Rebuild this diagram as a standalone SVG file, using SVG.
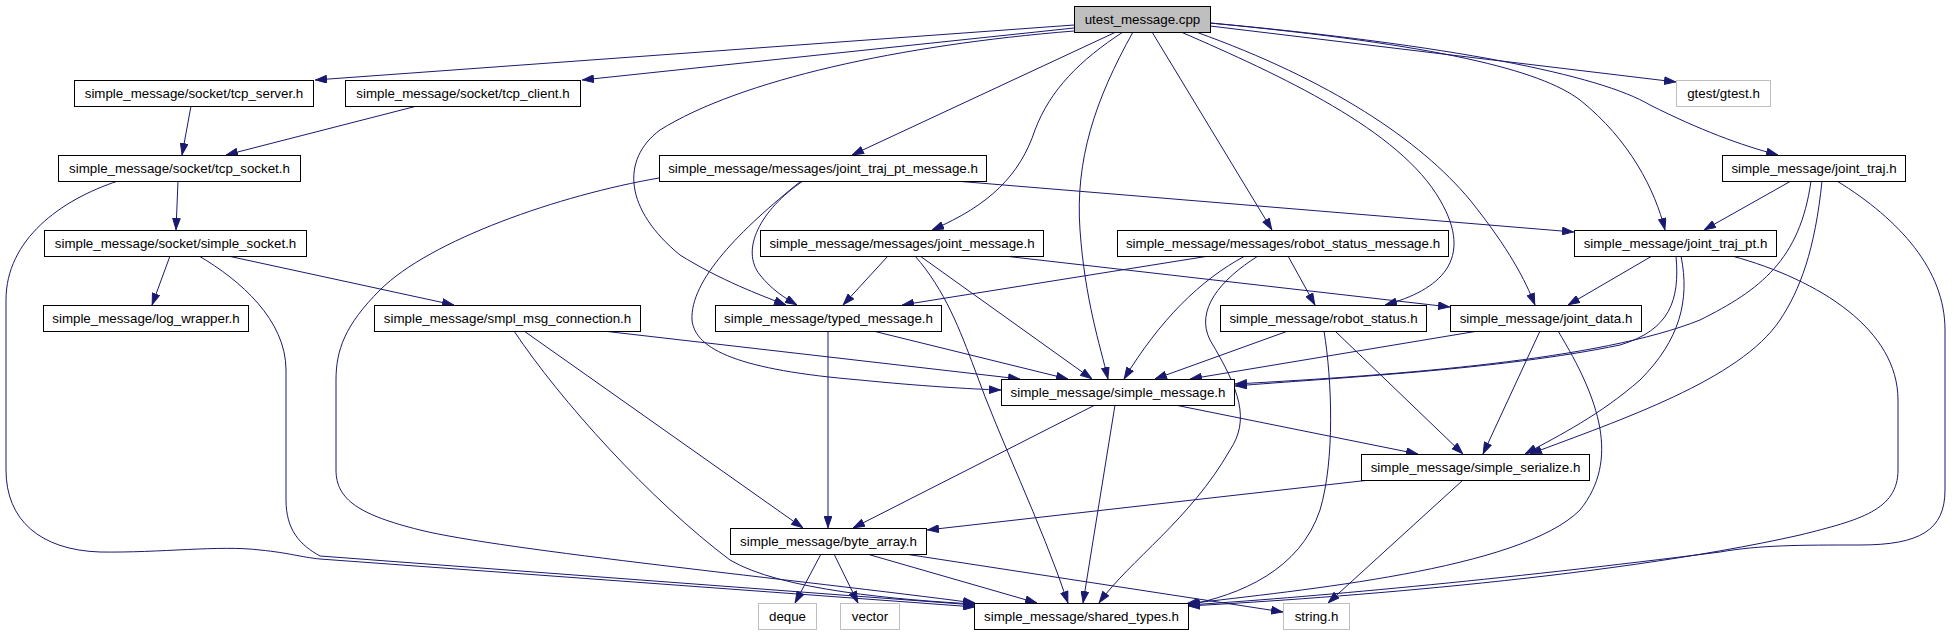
<svg xmlns="http://www.w3.org/2000/svg" width="1954" height="635" viewBox="0 0 1954 635">
<style>
.n rect{fill:#fff;stroke:#000;stroke-width:1}
.g rect{fill:#fff;stroke:#bfbfbf;stroke-width:1}
.r rect{fill:#bfbfbf;stroke:#000;stroke-width:1}
text{font-family:"Liberation Sans",Arial,Helvetica,sans-serif;font-size:13.33px;text-anchor:middle;fill:#000}
#edges path{fill:none;stroke:#191970;stroke-width:1;marker-end:url(#a)}
</style>
<defs>
<marker id="a" viewBox="0 0 12 8.5" refX="12" refY="4.25" markerWidth="12" markerHeight="8.5" orient="auto" markerUnits="userSpaceOnUse"><path d="M0.5,0.5L11.5,4.25L0.5,8z" fill="#191970" stroke="#191970" stroke-width="1"/></marker>
</defs>
<rect width="1954" height="635" fill="#fff"/>
<g id="edges">
<path d="M1074,25 L315,80"/>
<path d="M1074,28 L582,80"/>
<path d="M1074,31 C900,45 740,80 660,130 C620,160 625,210 680,255 C720,280 760,295 786,305"/>
<path d="M1116,32 L852,155"/>
<path d="M1123,32 C1080,60 1050,90 1035,130 C1020,175 990,205 932,230"/>
<path d="M1133,32 C1095,100 1075,160 1080,230 C1085,300 1100,345 1108,379"/>
<path d="M1152,32 L1272,230"/>
<path d="M1181,32 C1280,75 1400,130 1440,200 C1475,260 1440,290 1385,305"/>
<path d="M1196,32 C1330,80 1420,140 1470,200 C1510,250 1525,280 1535,305"/>
<path d="M1210,23 C1440,45 1540,70 1580,100 C1630,140 1655,190 1665,230"/>
<path d="M1210,23 C1450,45 1600,75 1650,105 C1700,130 1740,145 1778,155"/>
<path d="M1210,26 L1676,82"/>
<path d="M191,106 L182,155"/>
<path d="M417,106 L226,155"/>
<path d="M178,181 L176,230"/>
<path d="M118,181 C60,200 6,240 6,300 L6,470 C6,520 40,550 100,552 C160,553 220,545 260,550 C290,553 300,557 320,559 L975,607"/>
<path d="M199,256 C240,280 286,320 286,370 L286,500 C286,530 300,545 320,556 L975,605"/>
<path d="M170,256 L152,305"/>
<path d="M228,256 L454,305"/>
<path d="M603,331 L1020,379"/>
<path d="M524,331 L803,528"/>
<path d="M514,331 C560,400 650,500 730,560 C780,590 900,600 975,604"/>
<path d="M659,178 C560,195 430,240 380,290 C345,325 336,350 336,380 L336,470 C336,500 360,515 420,530 C500,550 800,580 975,603"/>
<path d="M803,181 C760,210 740,250 760,275 C772,290 785,298 797,305"/>
<path d="M801,181 C740,230 690,280 692,320 C695,350 740,370 860,380 C920,386 970,389 1001,390"/>
<path d="M955,181 L1574,232"/>
<path d="M888,256 L843,305"/>
<path d="M915,256 C945,290 960,330 975,370 C1000,440 1040,520 1068,603"/>
<path d="M920,256 L1092,379"/>
<path d="M1004,256 L1450,307"/>
<path d="M1209,256 L902,305"/>
<path d="M1245,256 C1200,280 1160,320 1124,379"/>
<path d="M1258,256 C1220,280 1195,310 1210,340 C1240,390 1250,420 1230,450 C1190,520 1130,560 1099,603"/>
<path d="M1288,256 L1315,305"/>
<path d="M1288,331 L1155,379"/>
<path d="M1324,331 C1332,380 1335,460 1320,510 C1300,570 1240,595 1188,605"/>
<path d="M1335,331 L1463,454"/>
<path d="M1478,331 L1190,379"/>
<path d="M1540,331 L1483,454"/>
<path d="M1558,331 C1600,400 1620,460 1580,510 C1520,570 1300,590 1186,604"/>
<path d="M1652,256 L1568,305"/>
<path d="M1676,256 C1680,300 1670,330 1620,345 C1500,370 1330,378 1235,386"/>
<path d="M1681,256 C1690,300 1680,340 1640,380 C1600,415 1560,435 1525,454"/>
<path d="M1732,256 C1820,280 1898,330 1898,400 L1898,470 C1898,510 1860,520 1800,535 C1600,580 1300,600 1188,606"/>
<path d="M1791,181 L1704,230"/>
<path d="M1811,181 C1800,260 1760,290 1700,320 C1600,360 1400,375 1235,384"/>
<path d="M1822,181 C1815,250 1800,290 1780,320 C1740,380 1620,420 1530,454"/>
<path d="M1837,181 C1900,220 1945,270 1945,330 L1945,490 C1945,530 1920,545 1860,545 C1800,545 1760,545 1720,552 C1500,580 1300,598 1188,605"/>
<path d="M1095,405 L853,528"/>
<path d="M1115,405 L1083,603"/>
<path d="M1175,405 L1418,454"/>
<path d="M1370,480 L927,530"/>
<path d="M1463,480 L1328,603"/>
<path d="M828,331 L828,528"/>
<path d="M873,331 L1068,379"/>
<path d="M821,554 L795,603"/>
<path d="M834,554 L858,603"/>
<path d="M867,554 L1037,603"/>
<path d="M905,554 L1283,612"/>
</g>
<g id="utest" class="r"><rect x="1074.5" y="6.5" width="136" height="26"/><text x="1142.5" y="24">utest_message.cpp</text></g>
<g id="tcp_server" class="n"><rect x="74.5" y="80.5" width="239" height="26"/><text x="194" y="98">simple_message/socket/tcp_server.h</text></g>
<g id="tcp_client" class="n"><rect x="345.5" y="80.5" width="235" height="26"/><text x="463" y="98">simple_message/socket/tcp_client.h</text></g>
<g id="gtest" class="g"><rect x="1676.5" y="80.5" width="94" height="26"/><text x="1723.5" y="98">gtest/gtest.h</text></g>
<g id="tcp_socket" class="n"><rect x="58.5" y="155.5" width="242" height="26"/><text x="179.5" y="173">simple_message/socket/tcp_socket.h</text></g>
<g id="joint_traj_pt_message" class="n"><rect x="659.5" y="155.5" width="327" height="26"/><text x="823" y="173">simple_message/messages/joint_traj_pt_message.h</text></g>
<g id="joint_traj" class="n"><rect x="1722.5" y="155.5" width="183" height="26"/><text x="1814" y="173">simple_message/joint_traj.h</text></g>
<g id="simple_socket" class="n"><rect x="44.5" y="230.5" width="262" height="26"/><text x="175.5" y="248">simple_message/socket/simple_socket.h</text></g>
<g id="joint_message" class="n"><rect x="760.5" y="230.5" width="283" height="26"/><text x="902" y="248">simple_message/messages/joint_message.h</text></g>
<g id="robot_status_message" class="n"><rect x="1117.5" y="230.5" width="331" height="26"/><text x="1283" y="248">simple_message/messages/robot_status_message.h</text></g>
<g id="joint_traj_pt" class="n"><rect x="1574.5" y="230.5" width="202" height="26"/><text x="1675.5" y="248">simple_message/joint_traj_pt.h</text></g>
<g id="log_wrapper" class="n"><rect x="43.5" y="305.5" width="205" height="26"/><text x="146" y="323">simple_message/log_wrapper.h</text></g>
<g id="smpl_msg_connection" class="n"><rect x="374.5" y="305.5" width="266" height="26"/><text x="507.5" y="323">simple_message/smpl_msg_connection.h</text></g>
<g id="typed_message" class="n"><rect x="715.5" y="305.5" width="226" height="26"/><text x="828.5" y="323">simple_message/typed_message.h</text></g>
<g id="robot_status" class="n"><rect x="1220.5" y="305.5" width="206" height="26"/><text x="1323.5" y="323">simple_message/robot_status.h</text></g>
<g id="joint_data" class="n"><rect x="1450.5" y="305.5" width="191" height="26"/><text x="1546" y="323">simple_message/joint_data.h</text></g>
<g id="simple_message" class="n"><rect x="1001.5" y="379.5" width="233" height="26"/><text x="1118" y="397">simple_message/simple_message.h</text></g>
<g id="simple_serialize" class="n"><rect x="1361.5" y="454.5" width="228" height="26"/><text x="1475.5" y="472">simple_message/simple_serialize.h</text></g>
<g id="byte_array" class="n"><rect x="730.5" y="528.5" width="196" height="26"/><text x="828.5" y="546">simple_message/byte_array.h</text></g>
<g id="deque" class="g"><rect x="758.5" y="603.5" width="58" height="26"/><text x="787.5" y="621">deque</text></g>
<g id="vector" class="g"><rect x="840.5" y="603.5" width="59" height="26"/><text x="870" y="621">vector</text></g>
<g id="shared_types" class="n"><rect x="974.5" y="603.5" width="214" height="26"/><text x="1081.5" y="621">simple_message/shared_types.h</text></g>
<g id="string_h" class="g"><rect x="1283.5" y="603.5" width="66" height="26"/><text x="1316.5" y="621">string.h</text></g>
</svg>
